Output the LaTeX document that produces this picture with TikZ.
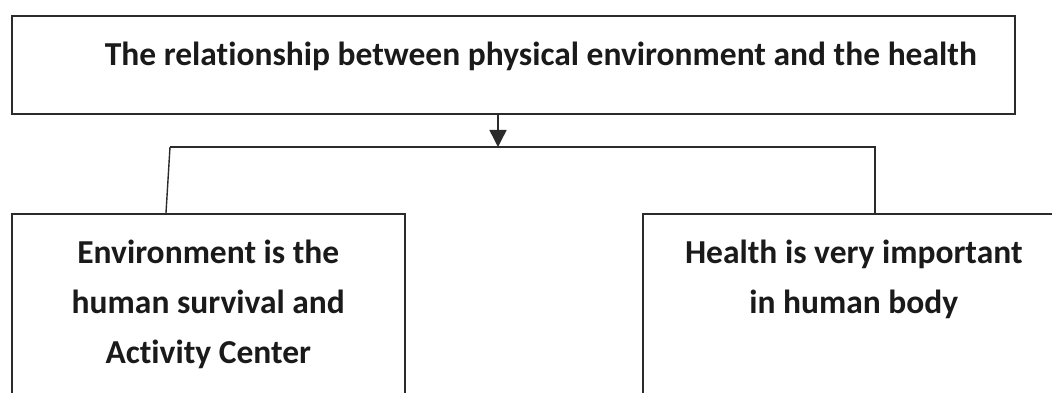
\documentclass[tikz,border=0pt]{standalone}
\usepackage{fontspec}
\setmainfont[Ligatures=NoCommon]{Carlito}
\usetikzlibrary{arrows.meta,positioning}
\definecolor{chartInk}{HTML}{1A1A1A}
\definecolor{chartLine}{HTML}{2B2B2B}

\begin{document}
\begin{tikzpicture}[x=1pt,y=-1pt,>={Triangle[length=17pt,width=17pt]},line join=miter]
\useasboundingbox[fill=white] (0,0) rectangle (1052,393);
\clip (0,0) rectangle (1052,393);
\tikzset{box/.style={draw=chartLine,line width=1.6pt,inner sep=0pt,anchor=north west},link/.style={draw=chartLine,line width=1.4pt},label text/.style={text=chartInk,font=\bfseries\fontsize{33.5}{50}\selectfont,align=center,inner sep=0pt,anchor=north}}
\node[box,minimum width=1003pt,minimum height=98pt] (title) at (11,15) {};
\node[box,minimum width=393pt,minimum height=240pt] (envBox) at (11,213) {};
\node[box,minimum width=460pt,minimum height=240pt] (healthBox) at (642,213) {};
\node[label text,below=27pt of title.north,xshift=27.5pt] (titleText) {The relationship between physical environment and the health};
\node[label text,below=27pt of envBox.north] (envText) {Environment is the\\human survival and\\Activity Center};
\node[label text,below=27pt of healthBox.north,xshift=-19pt] (healthText) {Health is very important\\in human body};
% branch bar under the title
\coordinate (split) at (498,147); \coordinate (barL) at (170,147); \coordinate (barR) at (875,147);
\draw[link,->] (title.south -| split) -- (split);
\draw[link] (barL) -- (barR) -- (barR |- healthBox.north);
\draw[link] (barL) -- ([xshift=-4pt]barL |- envBox.north);
\end{tikzpicture}
\end{document}
